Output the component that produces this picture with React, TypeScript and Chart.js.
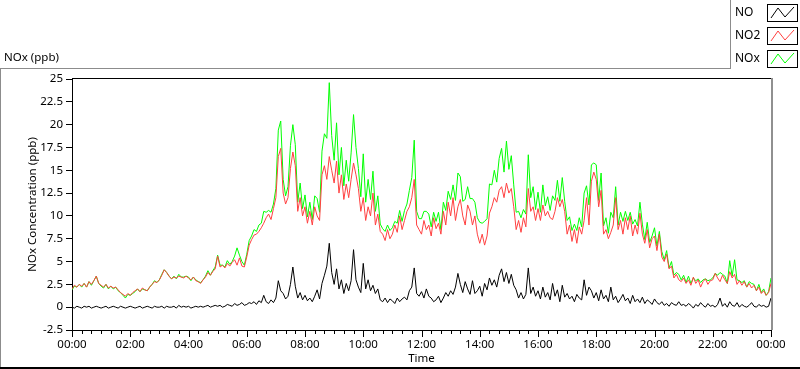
import React, { useEffect, useRef } from "react";
import { Chart, registerables } from "chart.js";

Chart.register(...registerables);

// ---- Data (one value every 5 minutes, 00:00 .. 24:00) ----
const stepMinutes = 5;
const seriesNames = ["NO", "NO2", "NOx"];
const seriesColors = ["#000000", "#ff4040", "#00ff00"];
const xTickLabels = ["00:00", "02:00", "04:00", "06:00", "08:00", "10:00", "12:00", "14:00", "16:00", "18:00", "20:00", "22:00", "00:00"];

const NO = [
  0.0, -0.1, 0.1, 0.0, -0.1, 0.1, 0.0, 0.1, -0.1, 0.0, 0.1, 0.0,
  -0.1, 0.0, 0.1, -0.1, 0.0, 0.1, 0.0, -0.1, 0.1, 0.0, -0.1, 0.0,
  0.1, 0.0, -0.1, 0.0, 0.1, -0.1, 0.0, 0.1, 0.0, -0.1, 0.1, 0.0,
  0.0, 0.1, -0.1, 0.1, 0.0, 0.0, 0.1, -0.1, 0.2, 0.0, 0.1, 0.0,
  0.1, -0.1, 0.0, 0.1, 0.0, 0.1, 0.0, 0.1, 0.2, 0.0, 0.1, 0.2,
  0.1, 0.2, 0.0, 0.1, 0.3, 0.2, 0.1, 0.4, 0.2, 0.3, 0.5, 0.2,
  0.3, 0.5, 0.4, 0.6, 0.3, 0.7, 0.5, 1.3, 0.6, 0.4, 0.8, 0.5,
  1.0, 2.9, 1.8, 1.5, 0.9, 1.2, 2.5, 4.4, 2.3, 1.0, 1.6, 0.8,
  1.3, 0.7, 1.0, 0.6, 1.2, 1.9, 0.9, 2.6, 3.5, 4.5, 7.0, 3.8,
  2.5, 4.2, 2.0, 3.0, 1.5, 2.6, 1.8, 2.9, 6.3, 3.0, 2.2, 1.6,
  4.8, 2.0, 3.0, 1.8, 2.4, 1.5, 2.0, 0.8, 0.6, 1.0, 0.5, 0.9,
  0.7, 0.4, 1.0, 0.6, 0.9, 1.1, 0.8, 1.8, 2.2, 4.3, 1.5, 1.2,
  1.7, 1.0, 2.0, 1.2, 1.0, 0.6, 0.8, 1.2, 0.5, 1.0, 1.6, 1.2,
  1.8, 1.4, 2.2, 3.7, 2.5, 1.6, 2.8, 2.0, 1.4, 2.9, 1.5, 1.8,
  2.3, 1.2, 2.6, 1.9, 3.2, 2.4, 3.0, 2.2, 3.5, 4.2, 2.8, 3.8,
  2.6, 3.6, 2.4, 1.9, 1.0, 1.6, 0.9, 1.4, 4.3, 1.5, 2.2, 1.2,
  1.8, 0.9, 2.2, 1.1, 1.6, 0.8, 2.6, 1.2, 1.9, 0.6, 2.4, 1.1,
  1.5, 0.9, 1.2, 0.6, 1.4, 1.0, 0.8, 3.0, 1.3, 2.2, 1.8, 1.0,
  1.6, 0.7, 1.9, 0.9, 1.3, 0.6, 2.2, 0.8, 1.2, 0.5, 0.9, 1.4,
  0.7, 1.0, 0.4, 1.3, 0.6, 0.9, 0.5, 1.1, 0.4, 0.8, 0.6, 0.3,
  0.9, 0.5, 0.3, 0.6, 0.2, 0.4, 0.1, 0.5, 0.3, 0.2, 0.6, 0.2,
  0.3, 0.1, 0.4, 0.2, -0.1, 0.3, 0.1, 0.5, 0.2, 0.0, 0.4, 0.1,
  0.2, 0.0, 0.3, 1.0, 0.1, 0.4, 0.0, 0.6, 0.2, 0.1, 0.5, 0.0,
  0.3, 0.1, 0.0, 0.2, 0.5, 0.1, 0.0, 0.3, 0.1, 0.2, 0.0, 0.1, 1.0,
];

const NO2 = [
  2.0, 2.4, 2.2, 2.5, 2.3, 2.6, 2.2, 2.8, 2.5, 2.9, 3.4, 2.6,
  2.4, 2.2, 2.5, 2.1, 2.3, 2.1, 2.2, 1.9, 1.6, 1.4, 1.2, 1.5,
  1.3, 1.6, 1.8, 2.0, 1.7, 2.1, 1.9, 1.8, 2.2, 2.5, 2.8, 2.7,
  3.0, 3.5, 4.1, 3.8, 3.4, 3.1, 3.3, 3.2, 3.4, 3.3, 3.2, 3.4,
  3.2, 3.0, 3.3, 2.9, 2.8, 2.6, 3.0, 3.3, 3.8, 3.5, 3.9, 4.2,
  5.6, 4.4, 4.6, 4.3, 4.8, 4.5, 4.9, 5.2, 4.6, 5.4, 4.5, 4.4,
  5.5, 6.8, 7.4, 7.9, 8.0, 8.3, 8.7, 9.2, 9.8, 10.2, 9.6, 10.8,
  12.0, 16.5, 17.4, 12.5, 11.3, 12.0, 15.2, 17.0, 15.5, 10.5, 12.0, 10.0,
  11.0, 9.2, 10.5, 9.0, 11.0, 10.0, 9.5, 14.5, 15.5, 14.0, 16.5, 15.0,
  13.6, 16.0, 12.5, 14.5, 11.8, 13.5, 12.0, 14.0, 15.8, 14.5, 13.0, 10.5,
  12.0, 9.5, 11.0, 10.0, 12.5, 9.0, 10.2, 8.3, 8.0, 7.3, 8.5, 7.5,
  8.0, 9.0, 8.2, 10.0, 8.5, 9.5, 10.5, 11.0, 12.0, 14.0, 9.0, 8.5,
  8.0, 9.5, 8.5, 9.0, 7.8, 9.8, 8.6, 9.2, 8.0, 10.5, 9.0, 11.5,
  10.0, 12.0, 9.5, 11.0, 11.8, 10.0, 9.0, 11.2, 10.5, 9.0, 10.0, 8.0,
  7.0, 8.0, 6.8, 7.8, 10.3, 11.0, 12.0, 11.5, 12.8, 13.2, 12.0, 13.6,
  12.5, 13.0, 11.0, 8.5, 9.5, 8.2, 9.8, 8.8, 13.0, 10.5, 11.0, 9.5,
  10.8, 9.5, 11.2, 10.0, 10.5, 9.8, 9.6, 10.5, 12.0, 11.0, 11.8, 10.5,
  8.0, 9.0, 7.2, 8.5, 7.0, 8.8, 8.0, 9.5, 12.0, 9.0, 13.8, 14.8,
  14.0, 11.0, 12.8, 8.0, 8.5, 7.5, 8.2, 9.0, 12.0, 8.5, 9.5, 8.0,
  9.8, 8.5, 10.0, 7.8, 9.0, 8.0, 10.3, 8.0, 7.0, 8.5, 6.5, 7.5,
  7.8, 6.2, 8.0, 5.5, 5.0, 5.8, 4.2, 4.5, 3.2, 3.6, 3.0, 2.8,
  3.2, 2.6, 3.0, 2.4, 3.3, 2.6, 3.0, 2.2, 2.8, 3.1, 2.5, 2.9,
  3.0, 3.7, 3.2, 2.8, 3.5, 3.0, 2.6, 3.9, 3.2, 3.6, 2.5, 2.9,
  2.4, 2.8, 2.2, 2.6, 2.1, 2.4, 1.8, 2.2, 1.5, 1.8, 1.3, 1.6, 2.6,
];

const NOX = [
  1.9, 2.3, 2.2, 2.5, 2.2, 2.6, 2.2, 2.8, 2.4, 2.9, 3.4, 2.6,
  2.3, 2.1, 2.5, 2.0, 2.3, 2.0, 2.2, 1.8, 1.6, 1.3, 1.0, 1.4,
  1.3, 1.5, 1.7, 2.0, 1.7, 2.0, 1.9, 1.8, 2.2, 2.5, 2.9, 2.7,
  3.0, 3.6, 4.1, 3.8, 3.4, 3.1, 3.4, 3.1, 3.6, 3.3, 3.3, 3.4,
  3.3, 2.9, 3.3, 3.0, 2.8, 2.7, 3.0, 3.4, 4.0, 3.5, 4.0, 4.4,
  5.7, 4.6, 4.6, 4.4, 5.1, 4.7, 5.0, 5.6, 6.5, 5.7, 5.0, 4.6,
  5.8, 7.3, 7.8, 8.5, 8.3, 9.0, 9.2, 10.5, 10.4, 10.6, 10.4, 11.3,
  13.0, 19.4, 20.4, 14.0, 12.2, 13.2, 17.7, 20.0, 17.8, 11.5, 13.6, 10.8,
  12.3, 9.9, 11.5, 9.6, 12.2, 11.9, 10.4, 17.1, 19.0, 18.5, 24.6, 18.8,
  16.1, 20.2, 14.5, 17.5, 13.3, 16.1, 13.8, 16.9, 21.1, 17.5, 15.2, 12.1,
  16.8, 11.5, 14.0, 11.8, 14.9, 10.5, 12.2, 9.1, 8.6, 8.3, 9.0, 8.4,
  8.7, 9.4, 9.2, 10.6, 9.4, 10.6, 11.3, 12.8, 14.2, 18.3, 10.5, 9.7,
  9.7, 10.5, 10.5, 10.2, 8.8, 10.4, 9.4, 10.4, 8.5, 11.5, 10.6, 12.7,
  11.8, 13.4, 11.7, 14.7, 14.3, 11.6, 11.8, 13.2, 11.9, 11.9, 11.5, 9.8,
  9.3, 9.2, 9.4, 9.7, 13.5, 13.4, 15.0, 13.7, 16.3, 17.4, 14.8, 18.2,
  15.1, 16.6, 13.4, 10.4, 10.5, 9.8, 10.7, 10.2, 16.7, 12.0, 13.2, 10.7,
  12.6, 10.4, 13.4, 11.1, 12.1, 10.6, 12.2, 11.7, 13.9, 11.6, 14.2, 11.6,
  9.5, 9.9, 8.4, 9.1, 8.4, 9.8, 8.8, 12.5, 13.3, 11.2, 15.6, 15.8,
  15.6, 11.7, 14.7, 8.9, 9.8, 8.1, 10.4, 9.8, 13.2, 9.0, 10.4, 9.4,
  10.5, 9.5, 10.4, 9.1, 9.6, 8.9, 11.5, 9.1, 7.4, 9.3, 7.1, 7.8,
  8.7, 6.7, 8.3, 6.1, 5.2, 6.2, 4.3, 5.0, 3.5, 3.8, 3.6, 3.0,
  3.5, 2.7, 3.4, 2.6, 3.2, 2.9, 3.1, 2.7, 3.0, 3.1, 2.9, 3.0,
  3.2, 3.7, 3.5, 3.8, 3.6, 3.4, 2.6, 5.1, 3.4, 5.2, 3.0, 2.9,
  2.7, 2.9, 2.2, 2.8, 2.6, 2.5, 1.8, 2.5, 1.6, 2.0, 1.3, 1.7, 3.2,
];

const seriesValues = [NO, NO2, NOX];

const FONT = "'Noto Sans', 'DejaVu Sans', sans-serif";

const framePlugin = {
  id: "labviewFrame",
  afterDraw(chart: any) {
    const ctx = chart.ctx as CanvasRenderingContext2D;
    const ca = chart.chartArea;
    const xs = chart.scales.x;
    ctx.save();

    // x-axis tick marks (major every 2h, minor every 20 min)
    ctx.strokeStyle = "#000";
    ctx.lineWidth = 1;
    for (const t of xs.ticks) {
      const px = Math.round(xs.getPixelForValue(t.value)) + 0.5;
      const len = t.value % 120 === 0 ? 7 : 4;
      ctx.beginPath();
      ctx.moveTo(px, ca.bottom);
      ctx.lineTo(px, ca.bottom + len);
      ctx.stroke();
    }

    // plot area top (black) and right (grey) borders
    ctx.fillStyle = "#000";
    ctx.fillRect(ca.left, ca.top - 1, ca.right - ca.left, 1);
    ctx.fillStyle = "#909090";
    ctx.fillRect(ca.right, ca.top - 1, 2, ca.bottom - ca.top + 1);

    // outer panel frame
    ctx.fillStyle = "#8c8c8c";
    ctx.fillRect(0, 68, 731, 1);
    ctx.fillRect(730, 0, 1, 69);
    ctx.fillRect(0, 68, 1, 301);
    ctx.fillStyle = "#000";
    ctx.fillRect(0, 367, 800, 2);

    // panel caption
    ctx.fillStyle = "#000";
    ctx.font = `11.5px ${FONT}`;
    ctx.textBaseline = "middle";
    ctx.textAlign = "left";
    ctx.fillText("NOx (ppb)", 4, 58);

    // legend
    const rows = [13, 36, 59];
    seriesNames.forEach((name, i) => {
      const cy = rows[i];
      ctx.fillStyle = "#000";
      ctx.font = `12px ${FONT}`;
      ctx.fillText(name, 735, cy);
      const bx = 767, by = cy - 9, bw = 31, bh = 18;
      ctx.fillStyle = "#fff";
      ctx.fillRect(bx, by, bw, bh);
      ctx.strokeStyle = "#000";
      ctx.lineWidth = 1;
      ctx.strokeRect(bx + 0.5, by + 0.5, bw - 1, bh - 1);
      ctx.strokeStyle = seriesColors[i];
      ctx.beginPath();
      ctx.moveTo(bx + 4, by + 14);
      ctx.lineTo(bx + 11, by + 4);
      ctx.lineTo(bx + 18, by + 13);
      ctx.lineTo(bx + 27, by + 3);
      ctx.stroke();
    });

    ctx.restore();
  },
};

export default function App() {
  const canvasRef = useRef<HTMLCanvasElement | null>(null);

  useEffect(() => {
    if (!canvasRef.current) return;
    const datasets = seriesNames.map((name, i) => ({
      label: name,
      data: seriesValues[i].map((v, k) => ({ x: k * stepMinutes, y: v })),
      borderColor: seriesColors[i],
      backgroundColor: seriesColors[i],
      borderWidth: 1,
      pointRadius: 0,
      tension: 0,
      fill: false,
    }));

    const chart = new Chart(canvasRef.current, {
      type: "line",
      data: { datasets },
      plugins: [framePlugin],
      options: {
        animation: false,
        responsive: false,
        devicePixelRatio: 1,
        layout: { padding: { top: 79, right: 29, left: 0, bottom: 0 } },
        plugins: { legend: { display: false }, tooltip: { enabled: false } },
        scales: {
          x: {
            type: "linear",
            min: 0,
            max: 1440,
            afterFit: (s: any) => { s.height = 39; },
            grid: { display: true, drawOnChartArea: false, drawTicks: false },
            border: { display: true, color: "#000", width: 1 },
            ticks: {
              stepSize: 20,
              maxTicksLimit: 100,
              autoSkip: false,
              maxRotation: 0,
              padding: 8,
              color: "#000",
              font: { family: FONT, size: 11.5 },
              callback: (v: any) => (Number(v) % 120 === 0 ? xTickLabels[Number(v) / 120] : ""),
            },
            title: {
              display: true,
              text: "Time",
              color: "#000",
              font: { family: FONT, size: 11.5 },
              padding: { top: 0, bottom: 3 },
            },
          },
          y: {
            min: -2.5,
            max: 25,
            afterFit: (s: any) => { s.width = 72; },
            grid: { display: true, drawOnChartArea: false, drawTicks: true, tickLength: 6, color: "#000" },
            border: { display: true, color: "#000", width: 1 },
            ticks: {
              stepSize: 2.5,
              autoSkip: false,
              padding: 3,
              color: "#000",
              font: { family: FONT, size: 11.5 },
            },
            title: {
              display: true,
              text: "NOx Concentration (ppb)",
              color: "#000",
              font: { family: FONT, size: 11.5 },
              padding: { top: 26, bottom: 0 },
            },
          },
        },
      },
    });
    return () => chart.destroy();
  }, []);

  return (
    <div style={{ position: "absolute", left: 0, top: 0, width: 800, height: 369, background: "#fff" }}>
      <canvas ref={canvasRef} width={800} height={369} style={{ display: "block" }} />
    </div>
  );
}
